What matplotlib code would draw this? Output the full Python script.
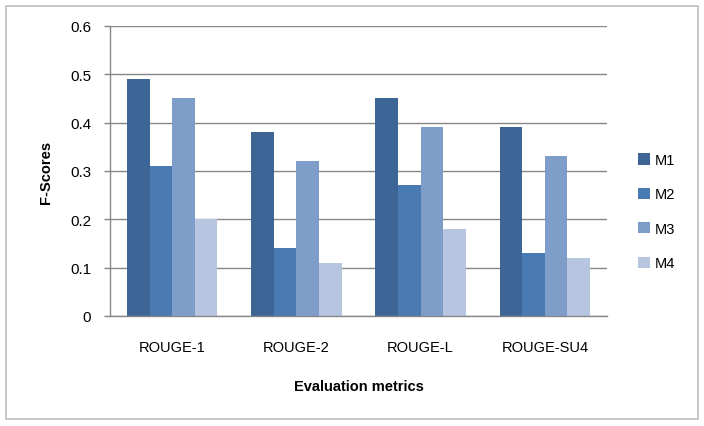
import matplotlib.pyplot as plt
import numpy as np
from matplotlib.patches import Rectangle

categories = ["ROUGE-1", "ROUGE-2", "ROUGE-L", "ROUGE-SU4"]
series_names = ["M1", "M2", "M3", "M4"]
m1 = [0.49, 0.38, 0.45, 0.39]
m2 = [0.31, 0.14, 0.27, 0.13]
m3 = [0.45, 0.32, 0.39, 0.33]
m4 = [0.20, 0.11, 0.18, 0.12]
yticks = [0, 0.1, 0.2, 0.3, 0.4, 0.5, 0.6]
ytick_labels = ["0", "0.1", "0.2", "0.3", "0.4", "0.5", "0.6"]

colors = ["#3D6596", "#4A7AB2", "#7F9DC9", "#B7C5E0"]

plt.rcParams["font.family"] = ["Liberation Sans", "DejaVu Sans"]

fig = plt.figure(figsize=(7.04, 4.27), dpi=100)
ax = fig.add_axes([110 / 704, 1 - 317 / 427, 497 / 704, 290 / 427])

# 外枠
fig.patches.append(Rectangle((6 / 704, 7 / 427), 692 / 704, 413 / 427,
                             transform=fig.transFigure, fill=False,
                             edgecolor="#BDBDBD", linewidth=1.2))

x = np.arange(len(categories))
w = 1 / 5.5
for i, (vals, name) in enumerate(zip([m1, m2, m3, m4], series_names)):
    ax.bar(x + (i - 1.5) * w, vals, width=w, color=colors[i], label=name,
           zorder=2)

ax.set_xlim(-0.5, len(categories) - 0.5)
ax.set_ylim(0, 0.6)
ax.set_yticks(yticks)
ax.set_yticklabels(ytick_labels)
ax.set_xticks(x)
ax.set_xticklabels(categories)
ax.tick_params(axis="x", length=0, pad=17, labelsize=10.5)
ax.tick_params(axis="y", length=4.5, width=1, color="#878787", pad=9,
               labelsize=11)
ax.yaxis.grid(True, color="#878787", linewidth=1, zorder=0)
ax.set_axisbelow(True)
for s in ["top", "right"]:
    ax.spines[s].set_visible(False)
for s in ["left", "bottom"]:
    ax.spines[s].set_color("#878787")
    ax.spines[s].set_linewidth(1)

ax.set_xlabel("Evaluation metrics", fontsize=10.5, fontweight="bold",
              labelpad=18)
ax.set_ylabel("F-Scores", fontsize=10.5, fontweight="bold", labelpad=12)

fig.legend(loc="upper left", bbox_to_anchor=(638 / 704, 1 - 154 / 427),
           frameon=False, borderpad=0, borderaxespad=0,
           handlelength=0.8, handleheight=0.8, handletextpad=0.35,
           labelspacing=1.4, fontsize=10.5)

fig.savefig("out.png", dpi=100)
